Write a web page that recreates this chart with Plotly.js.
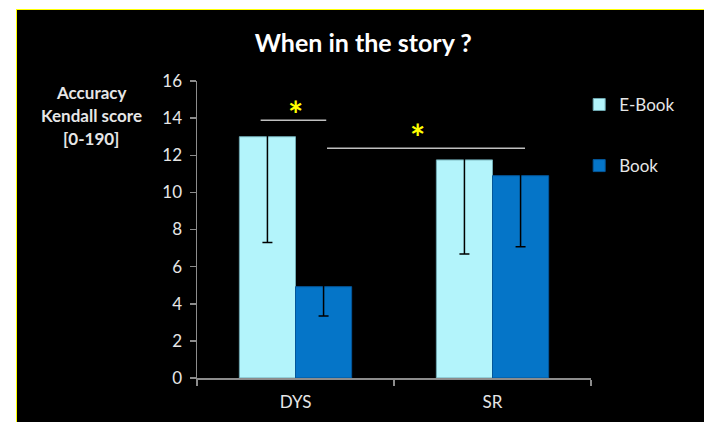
<!DOCTYPE html>
<html>
<head>
<meta charset="utf-8">
<script src="https://cdn.plot.ly/plotly-3.0.1.min.js"></script>
<style>
  html, body { margin:0; padding:0; background:#ffffff; width:704px; height:422px; overflow:hidden; }
  #frame { position:absolute; left:16px; top:9px; width:688px; height:413px; background:#000; border-left:1px solid #ffff00; border-top:1px solid #ffff00; box-sizing:border-box; }
  #chart { position:absolute; left:0; top:0; width:687px; height:412px; }
</style>
</head>
<body>
<div id="frame"><div id="chart"></div></div>
<script>
// ---- data ----
const categories = ["DYS", "SR"];
const seriesNames = ["E-Book", "Book"];
const ebookValues = [13.0, 11.75];
const bookValues = [4.92, 10.9];
const ebookErrors = [5.7, 5.07];
const bookErrors = [1.58, 3.83];
const yTickValues = [0, 2, 4, 6, 8, 10, 12, 14, 16];
const titleText = "When in the story ?";
const yTitleLines = ["Accuracy", "Kendall score", "[0-190]"];

const fontFam = "Lato, 'Open Sans', sans-serif";
const textCol = "#e6e6e6";

const traces = [
  {
    type: "bar", name: seriesNames[0], x: categories, y: ebookValues,
    marker: { color: "#b3f4fb", line: { color: "#6fa9b2", width: 1 } },
    error_y: { type: "data", array: ebookErrors, visible: true, color: "#000000", thickness: 1.5, width: 5 },
    legendgroup: "a"
  },
  {
    type: "bar", name: seriesNames[1], x: categories, y: bookValues,
    marker: { color: "#0575c8", line: { color: "#04579a", width: 1 } },
    error_y: { type: "data", array: bookErrors, visible: true, color: "#000000", thickness: 1.5, width: 5 },
    legendgroup: "b"
  }
];

const annotations = yTitleLines.map((t, i) => ({
  text: "<b>" + t + "</b>", xref: "paper", yref: "paper",
  x: -0.269, y: 0.96 - i * 0.0775, xanchor: "center", yanchor: "middle",
  showarrow: false, font: { family: fontFam, size: 17, color: textCol }
}));
annotations.push(
  { text: "<b>*</b>", xref: "x", yref: "y", x: 0, y: 14.2, xanchor: "center", yanchor: "middle",
    showarrow: false, font: { family: fontFam, size: 36, color: "#ffff00" } },
  { text: "<b>*</b>", xref: "x", yref: "y", x: 0.62, y: 13.0, xanchor: "center", yanchor: "middle",
    showarrow: false, font: { family: fontFam, size: 36, color: "#ffff00" } }
);

const shapes = [
  { type: "line", xref: "x", yref: "y", x0: -0.177, x1: 0.156, y0: 13.88, y1: 13.88, line: { color: "#bfbfbf", width: 1.5 } },
  { type: "line", xref: "x", yref: "y", x0: 0.16, x1: 1.165, y0: 12.38, y1: 12.38, line: { color: "#bfbfbf", width: 1.5 } }
];

const layout = {
  width: 687, height: 412,
  paper_bgcolor: "#000000", plot_bgcolor: "#000000",
  margin: { l: 180, r: 113, t: 71, b: 44 },
  title: { text: "<b>" + titleText + "</b>", xref: "container", yref: "container", x: 0.504, y: 0.92,
           xanchor: "center", yanchor: "middle", font: { family: fontFam, size: 25, color: "#ffffff" } },
  barmode: "group", bargap: 0.43, bargroupgap: 0,
  showlegend: true,
  legend: { x: 0.97, y: 0.98, xanchor: "left", yanchor: "top", bgcolor: "rgba(0,0,0,0)",
            font: { family: fontFam, size: 17, color: textCol }, traceorder: "grouped", tracegroupgap: 36 },
  xaxis: {
    type: "category", showline: true, linecolor: "#8c8c8c", linewidth: 1.5,
    ticks: "outside", tickson: "boundaries", ticklen: 6, tickcolor: "#8c8c8c", tickwidth: 1.5,
    ticklabelstandoff: 8,
    showgrid: false, zeroline: false, tickfont: { family: fontFam, size: 17, color: textCol }
  },
  yaxis: {
    range: [0, 16], tickvals: yTickValues, showline: true, linecolor: "#8c8c8c", linewidth: 1.5,
    ticks: "outside", ticklen: 6, tickcolor: "#8c8c8c", tickwidth: 1.5,
    ticklabelstandoff: 4,
    showgrid: false, zeroline: false, tickfont: { family: fontFam, size: 17, color: textCol }
  },
  annotations: annotations,
  shapes: shapes
};

Plotly.newPlot("chart", traces, layout, { displayModeBar: false, staticPlot: true });
</script>
</body>
</html>
